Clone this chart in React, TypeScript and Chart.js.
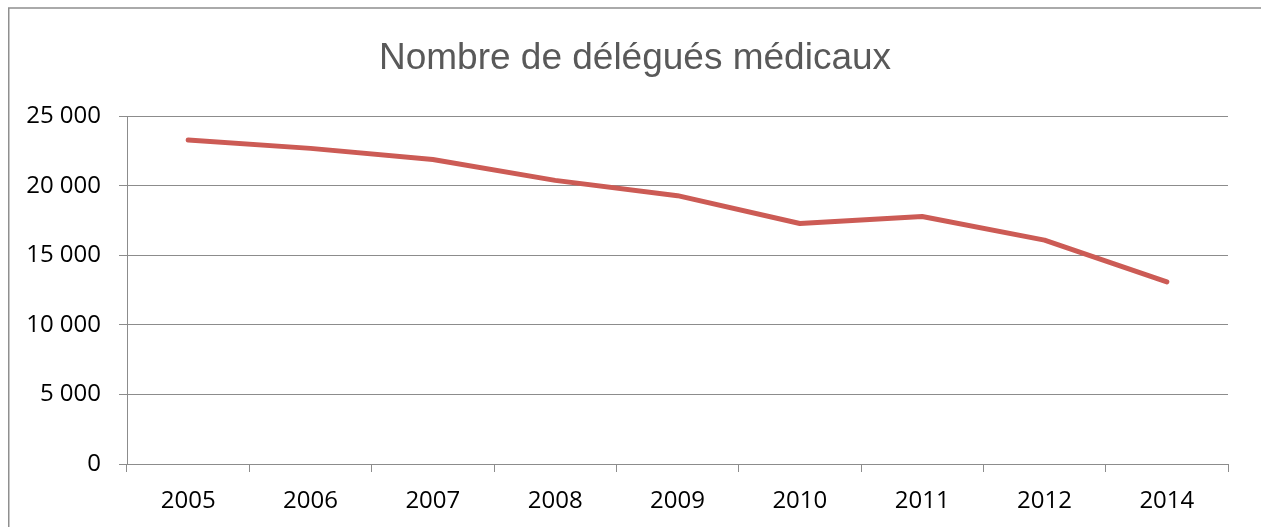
import React, { useEffect, useRef } from "react";
import { Chart, registerables } from "chart.js";

Chart.register(...registerables);

const categories = ["2005", "2006", "2007", "2008", "2009", "2010", "2011", "2012", "2014"];
const delegues = [23300, 22700, 21900, 20400, 19300, 17300, 17800, 16100, 13100];
const yMin = 0;
const yMax = 25000;
const yStep = 5000;
const chartTitle = "Nombre de délégués médicaux";

const gridColor = "#8c8c8c";
const lineColor = "#CC5B55";
const labelFont = { family: "'Open Sans', sans-serif", size: 24 };

function formatThousands(v: number): string {
  return String(v).replace(/\B(?=(\d{3})+(?!\d))/g, " ");
}

const framePlugin = {
  id: "frame",
  beforeDraw(chart: any) {
    const ctx = chart.ctx;
    ctx.save();
    ctx.fillStyle = "#ffffff";
    ctx.fillRect(0, 0, chart.width, chart.height);
    ctx.strokeStyle = "#8f8f8f";
    ctx.lineWidth = 1.5;
    ctx.beginPath();
    ctx.moveTo(8.75, chart.height + 10);
    ctx.lineTo(8.75, 8);
    ctx.lineTo(chart.width + 10, 8);
    ctx.stroke();
    ctx.restore();
  },
};

export default function App() {
  const ref = useRef<HTMLCanvasElement | null>(null);

  useEffect(() => {
    if (!ref.current) return;
    const chart = new Chart(ref.current, {
      type: "line",
      data: {
        labels: categories,
        datasets: [
          {
            label: "Délégués médicaux",
            data: delegues,
            borderColor: lineColor,
            backgroundColor: lineColor,
            borderWidth: 5,
            borderCapStyle: "round",
            borderJoinStyle: "round",
            pointRadius: 0,
            pointHoverRadius: 0,
            tension: 0,
            fill: false,
          },
        ],
      },
      options: {
        animation: false,
        responsive: false,
        maintainAspectRatio: false,
        layout: { padding: { left: 9, right: 0, top: 0, bottom: 0 } },
        plugins: {
          legend: { display: false },
          tooltip: { enabled: false },
          title: {
            display: true,
            text: chartTitle,
            color: "#595959",
            font: { family: "'Liberation Sans', Arial, sans-serif", size: 37, weight: "normal", lineHeight: 1.2 },
            padding: { top: 37, bottom: 35 },
          },
        },
        scales: {
          x: {
            type: "category",
            offset: true,
            grid: {
              offset: true,
              drawOnChartArea: false,
              drawTicks: true,
              tickLength: 8,
              color: gridColor,
              lineWidth: 1,
            },
            border: { display: true, color: gridColor, width: 1 },
            ticks: {
              color: "#000000",
              font: labelFont,
              padding: 15,
              maxRotation: 0,
              autoSkip: false,
            },
            afterFit: (s: any) => {
              s.height = 63;
            },
          },
          y: {
            min: yMin,
            max: yMax,
            grid: {
              color: gridColor,
              lineWidth: 1,
              drawTicks: true,
              tickLength: 8,
            },
            border: { display: true, color: gridColor, width: 1 },
            ticks: {
              stepSize: yStep,
              color: "#000000",
              font: labelFont,
              padding: 18,
              callback: (v: any) => formatThousands(Number(v)),
            },
            afterFit: (s: any) => {
              s.width = 118;
            },
          },
          yRight: {
            position: "right",
            display: true,
            grid: { display: false, drawTicks: false },
            border: { display: false },
            ticks: { display: false },
            afterFit: (s: any) => {
              s.width = 33;
            },
          },
        },
      },
      plugins: [framePlugin],
    } as any);
    return () => chart.destroy();
  }, []);

  return (
    <div style={{ position: "fixed", left: 0, top: 0, width: 1261, height: 527 }}>
      <canvas ref={ref} width={1261} height={527} style={{ display: "block", width: 1261, height: 527 }} />
    </div>
  );
}
